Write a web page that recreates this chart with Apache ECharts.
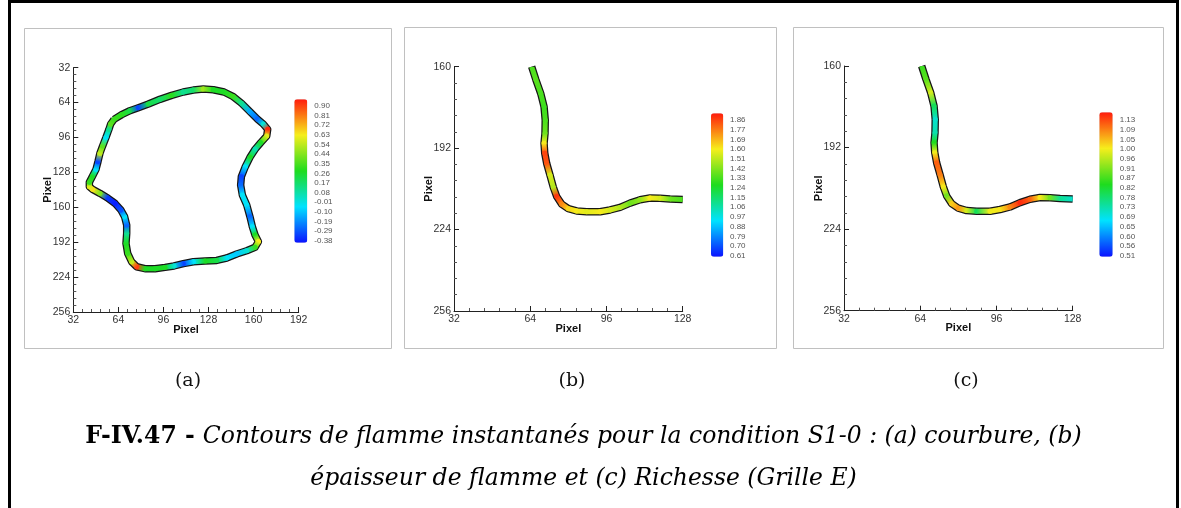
<!DOCTYPE html>
<html><head><meta charset="utf-8">
<script src="https://cdn.jsdelivr.net/npm/echarts@6/dist/echarts.min.js"></script>
<style>html,body{margin:0;padding:0;background:#fff}#c{width:1181px;height:508px}</style>
</head><body><div id="c"></div>
<script>
// ---------- DATA ----------
// (a) curvature contour (closed), pixel coordinates and values
const aX = [60.9,66.3,72.2,78.2,85.3,93.5,101.8,110.1,117.2,124.3,131.4,139.0,145.6,151.5,157.4,162.7,166.9,170.0,169.3,165.0,161.0,157.4,154.1,151.3,150.8,152.0,155.1,157.4,159.1,161.0,163.4,161.0,155.1,148.0,140.9,133.8,125.5,117.2,110.1,103.5,97.1,90.0,82.9,77.0,73.4,70.6,69.4,69.9,69.9,68.4,65.8,61.6,56.1,50.9,45.7,43.4,43.4,45.7,48.1,49.5,50.9,52.8,55.2,57.3,58.5];
const aY = [79.4,75.1,71.4,68.7,65.3,61.0,57.4,54.3,52.5,51.6,52.2,54.3,58.6,64.7,72.3,79.1,83.7,88.5,94.7,100.8,106.9,114.2,122.8,131.9,139.6,148.7,157.9,168.6,177.8,185.4,191.5,196.7,199.8,202.8,206.5,208.7,209.3,209.9,211.7,213.8,215.1,216.3,216.3,214.5,209.9,202.2,193.1,183.9,176.3,168.6,162.5,156.4,151.2,147.2,143.6,141.1,137.1,131.3,125.2,118.2,110.5,103.8,95.9,88.5,83.7];
const aV = [0.30,0.28,0.20,-0.30,0.20,0.15,0.28,0.10,0.15,0.45,0.25,0.25,0.30,0.10,-0.15,-0.25,0.00,0.88,0.55,0.25,0.05,0.25,-0.05,-0.30,-0.25,-0.05,-0.05,-0.25,-0.05,0.25,0.58,0.30,0.00,-0.10,-0.05,0.20,0.25,-0.05,-0.30,0.00,0.25,0.25,0.25,0.85,0.50,0.30,0.25,0.10,-0.25,-0.05,-0.28,-0.36,-0.32,0.40,0.60,0.55,0.30,0.25,-0.05,-0.30,0.50,0.35,-0.05,0.10,0.35];
// (b),(c) same flame front (open contour)
const bcX = [64.6,66.4,68.4,69.8,70.3,70.2,69.8,70.1,70.9,72.3,73.7,75.1,77.2,80.0,83.5,87.7,93.3,97.5,101.7,105.9,110.1,114.3,118.5,122.7,128.0];
const bcY = [160.0,165.2,170.5,175.7,181.0,186.2,190.1,194.0,198.0,202.6,207.4,211.0,214.0,215.8,216.7,217.0,217.0,216.3,215.3,213.6,212.3,211.6,211.7,212.0,212.2];
const bV = [1.30,1.32,1.30,1.28,1.30,1.35,1.55,1.80,1.78,1.50,1.45,1.82,1.70,1.58,1.55,1.52,1.55,1.50,1.45,1.35,1.40,1.55,1.50,1.35,1.30];
const cV = [0.84,0.86,0.95,0.78,0.70,0.72,0.82,0.97,1.08,1.06,0.98,0.88,1.00,1.04,0.95,0.78,0.97,0.98,1.05,1.12,1.08,0.98,0.88,0.74,0.70];
// colour bar tick labels (top to bottom) and ranges
const aLegend = ['0.90','0.81','0.72','0.63','0.54','0.44','0.35','0.26','0.17','0.08','-0.01','-0.10','-0.19','-0.29','-0.38'];
const bLegend = ['1.86','1.77','1.69','1.60','1.51','1.42','1.33','1.24','1.15','1.06','0.97','0.88','0.79','0.70','0.61'];
const cLegend = ['1.13','1.09','1.05','1.00','0.96','0.91','0.87','0.82','0.78','0.73','0.69','0.65','0.60','0.56','0.51'];
const aRange = [-0.38, 0.90], bRange = [0.61, 1.86], cRange = [0.51, 1.13];
const aXRange = [32, 192], aYRange = [32, 256];
const bcXRange = [32, 128], bcYRange = [160, 256];
const subLabels = ['(a)', '(b)', '(c)'];
const captionBold = 'F-IV.47 - ';
const captionLine1 = 'Contours de flamme instantanés pour la condition S1-0 : (a) courbure, (b)';
const captionLine2 = 'épaisseur de flamme et (c) Richesse (Grille E)';

// ---------- STYLE ----------
const SANS = 'Liberation Sans, Arial, sans-serif';
const SERIF = 'DejaVu Serif, serif';
const RAINBOW = ['#0a12ff','#00e2ff','#1edc1e','#f6ee1c','#ff1c0c'];
function hex(h){return [parseInt(h.substr(1,2),16),parseInt(h.substr(3,2),16),parseInt(h.substr(5,2),16)];}
function cmap(t){
  t = Math.max(0, Math.min(1, t));
  const s = t * 4, i = Math.min(3, Math.floor(s)), f = s - i;
  const a = hex(RAINBOW[i]), b = hex(RAINBOW[i+1]);
  return 'rgb(' + a.map((v,k)=>Math.round(v + (b[k]-v)*f)).join(',') + ')';
}

const chart = echarts.init(document.getElementById('c'), null, {renderer:'canvas'});

const mainGrids = [
  {left:73.3, top:67.7, width:225.4, height:244.3},
  {left:454,  top:66.7, width:228.7, height:244.3},
  {left:844,  top:66.0, width:228.7, height:244.7}
];
const barGrids = [
  {left:294.3, top:106, width:13, height:134.7, margin:7, barTop:99.3, barH:143.4, labels:aLegend},
  {left:711,   top:120, width:12.3, height:135.7, margin:6.7, barTop:113.3, barH:143.4, labels:bLegend},
  {left:1099.3,top:120, width:13.4, height:135.7, margin:7, barTop:112.3, barH:144.4, labels:cLegend}
];

const grid = [], xAxis = [], yAxis = [];
mainGrids.forEach((g,k)=>{
  grid.push(Object.assign({outerBoundsMode:'none', containLabel:false}, g));
  const xr = k===0 ? aXRange : bcXRange, yr = k===0 ? aYRange : bcYRange;
  const common = {
    type:'value', gridIndex:k, interval:32,
    name:'Pixel', nameLocation:'middle', nameMoveOverlap:false,
    nameTextStyle:{fontFamily:SANS, fontWeight:'bold', fontSize:11, color:'#111'},
    axisLine:{onZero:false, lineStyle:{color:'#222', width:1}},
    axisTick:{inside:true, length:5, lineStyle:{color:'#222'}},
    minorTick:{show:true, splitNumber:5, length:3, lineStyle:{color:'#555'}},
    splitLine:{show:false}, minorSplitLine:{show:false},
    axisLabel:{fontFamily:SANS, fontSize:10.5, color:'#333'}
  };
  xAxis.push(Object.assign({}, common, {min:xr[0], max:xr[1], nameGap:12, axisLabel:Object.assign({}, common.axisLabel, {margin:3})}));
  yAxis.push(Object.assign({}, common, {min:yr[0], max:yr[1], inverse:true, nameGap:20, axisLabel:Object.assign({}, common.axisLabel, {margin:3})}));
});
barGrids.forEach((g,k)=>{
  grid.push({outerBoundsMode:'none', containLabel:false, left:g.left, top:g.top, width:g.width, height:g.height});
  xAxis.push({type:'value', gridIndex:3+k, show:false});
  yAxis.push({type:'category', gridIndex:3+k, data:g.labels, inverse:true, boundaryGap:false, position:'right',
    axisLine:{show:false}, axisTick:{show:false}, splitLine:{show:false},
    axisLabel:{interval:0, margin:g.margin, fontFamily:SANS, fontSize:8, color:'#555'}});
});

const series = [];
function addContour(k, xs, ys, vs, range, closed){
  const n = xs.length;
  const pts = xs.map((x,i)=>[x, ys[i]]);
  if (closed) pts.push([xs[0], ys[0]]);
  series.push({type:'line', xAxisIndex:k, yAxisIndex:k, data:pts, symbol:'none', silent:true,
    clip:true, z:2, lineStyle:{color:'#161616', width:7.5, cap:'butt', join:'round'}, animation:false});
  const data = xs.map((x,i)=>[x, ys[i], vs[i]]);
  series.push({type:'custom', xAxisIndex:k, yAxisIndex:k, coordinateSystem:'cartesian2d', clip:true,
    silent:true, z:3, animation:false,
    data: closed ? data : data.slice(0, n-1),
    renderItem:function(params, api){
      const i = params.dataIndex, j = (i + 1) % n;
      const p1 = api.coord([api.value(0), api.value(1)]);
      const p2 = api.coord([xs[j], ys[j]]);
      const c1 = cmap((api.value(2) - range[0]) / (range[1] - range[0]));
      const c2 = cmap((vs[j] - range[0]) / (range[1] - range[0]));
      const endSeg = !closed && (i === 0 || i === n - 2);
      return {type:'line', shape:{x1:p1[0], y1:p1[1], x2:p2[0], y2:p2[1]},
        style:{stroke:new echarts.graphic.LinearGradient(p1[0],p1[1],p2[0],p2[1],
          [{offset:0,color:c1},{offset:1,color:c2}], true), lineWidth:5, lineCap:endSeg ? 'butt' : 'round', fill:null}};
    }});
}
addContour(0, aX, aY, aV, aRange, true);
addContour(1, bcX, bcY, bV, bRange, false);
addContour(2, bcX, bcY, cV, cRange, false);

const visualMap = [aRange, bRange, cRange].map((r,k)=>({
  type:'continuous', seriesIndex:2*k+1, dimension:2, min:r[0], max:r[1],
  orient:'vertical', left:barGrids[k].left, top:barGrids[k].barTop, padding:0,
  itemWidth:barGrids[k].width, itemHeight:barGrids[k].barH, calculable:false, hoverLink:false,
  inRange:{color:RAINBOW}, text:null, textStyle:{fontSize:0}
}));

const panelBoxes = [[24,28,367,320],[404,27,372,321],[793,27,370,321]];
const subPos = [188, 572, 966];
const graphic = [];
panelBoxes.forEach(b=>graphic.push({type:'rect', silent:true, z:-1,
  shape:{x:b[0]+0.5, y:b[1]+0.5, width:b[2], height:b[3]},
  style:{fill:'#fff', stroke:'#c0c0c0', lineWidth:1}}));
subLabels.forEach((t,k)=>graphic.push({type:'text', silent:true,
  style:{text:t, x:subPos[k], y:381, align:'center', verticalAlign:'middle',
    font:'19px ' + SERIF, fill:'#111'}}));
graphic.push({type:'text', silent:true, style:{
  text:'{b|' + captionBold + '}{i|' + captionLine1 + '}', x:583.5, y:437,
  align:'center', verticalAlign:'middle',
  rich:{b:{font:'bold 23.5px ' + SERIF, fill:'#000'}, i:{font:'italic 23.5px ' + SERIF, fill:'#000'}}}});
graphic.push({type:'text', silent:true, style:{
  text:captionLine2, x:583.5, y:479, align:'center', verticalAlign:'middle',
  font:'italic 23.5px ' + SERIF, fill:'#000'}});
// outer frame
graphic.push({type:'polyline', silent:true, shape:{points:[[9.5,508],[9.5,1.5],[1177.5,1.5],[1177.5,508]]},
  style:{stroke:'#000', lineWidth:3, fill:null}});

chart.setOption({animation:false, backgroundColor:'#fff', grid, xAxis, yAxis, series, visualMap, graphic});
</script></body></html>
